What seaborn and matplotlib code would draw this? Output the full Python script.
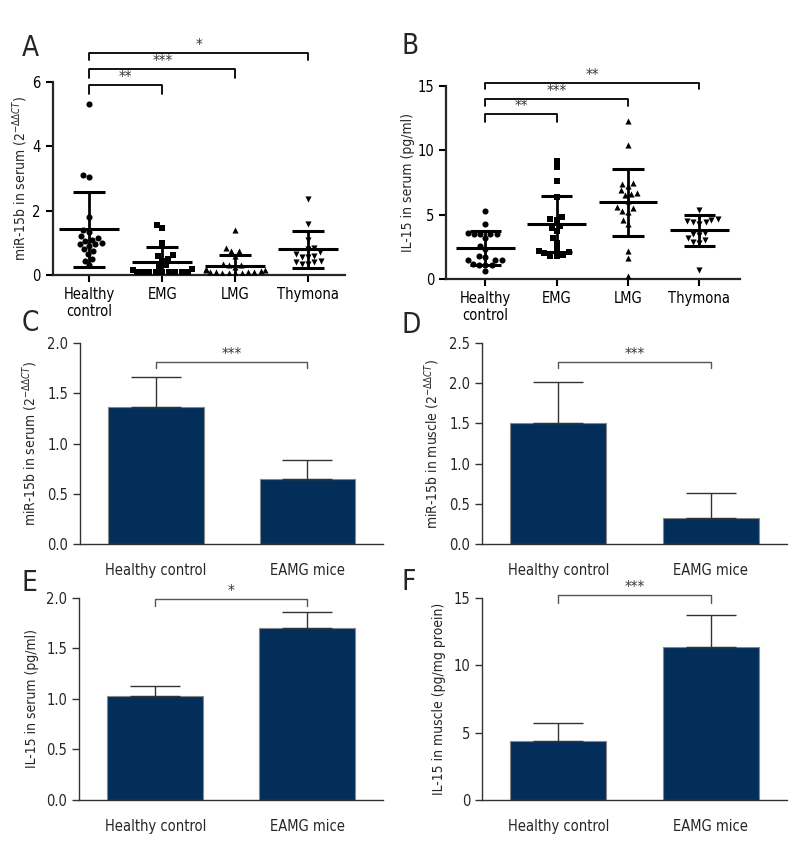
import numpy as np
import pandas as pd
import matplotlib
matplotlib.use('Agg')
import matplotlib.pyplot as plt
from matplotlib import font_manager
from matplotlib.ticker import FormatStrFormatter
import seaborn as sns

# scatter panels (A, B)
groups = ['Healthy\ncontrol', 'EMG', 'LMG', 'Thymona']
group_markers = ['o', 's', '^', 'v']

mir_hc = [5.31, 3.1, 3.05, 1.8, 1.4, 1.35, 1.2, 1.15, 1.1, 1.05, 1.0, 0.95, 0.95, 0.9, 0.8, 0.75, 0.65, 0.5, 0.45, 0.3]
mir_emg = [1.55, 1.45, 1.0, 0.62, 0.6, 0.5, 0.45, 0.3, 0.25, 0.2, 0.15, 0.1, 0.1, 0.08, 0.08, 0.08, 0.08, 0.08, 0.08, 0.1]
mir_lmg = [1.4, 0.85, 0.75, 0.75, 0.6, 0.35, 0.3, 0.3, 0.25, 0.2, 0.15, 0.15, 0.12, 0.1, 0.08, 0.08, 0.06, 0.05, 0.05, 0.05, 0.1]
mir_thy = [2.35, 1.6, 1.1, 0.85, 0.8, 0.7, 0.65, 0.6, 0.55, 0.55, 0.45, 0.4, 0.4, 0.35, 0.35]
mir_mean = [1.42, 0.40, 0.29, 0.80]
mir_sd = [1.16, 0.46, 0.33, 0.57]

il_hc = [5.3, 4.3, 3.6, 3.5, 3.5, 3.5, 3.5, 3.2, 2.6, 2.3, 1.8, 1.7, 1.5, 1.5, 1.5, 1.2, 1.1, 1.1, 1.1, 0.6]
il_emg = [9.2, 8.7, 7.6, 6.4, 4.8, 4.7, 4.6, 4.1, 4.0, 3.7, 3.2, 2.8, 2.3, 2.2, 2.1, 2.0, 1.9, 1.8, 1.8]
il_lmg = [12.3, 10.4, 7.5, 7.4, 7.2, 6.9, 6.7, 6.6, 6.5, 6.1, 5.6, 5.5, 5.3, 5.2, 4.6, 4.3, 2.2, 1.6, 0.2]
il_thy = [5.4, 4.8, 4.7, 4.6, 4.5, 4.4, 4.4, 4.3, 3.6, 3.5, 3.4, 3.2, 3.0, 2.9, 2.8, 0.7]
il_mean = [2.40, 4.29, 5.95, 3.78]
il_sd = [1.30, 2.17, 2.59, 1.19]

# bar panels (C-F)
mice = ['Healthy control', 'EAMG mice']
c_mean = [1.36, 0.65]
c_err = [0.30, 0.19]
d_mean = [1.51, 0.32]
d_err = [0.51, 0.31]
e_mean = [1.03, 1.70]
e_err = [0.10, 0.16]
f_mean = [4.35, 11.35]
f_err = [1.40, 2.40]

sns.set_style('ticks')
names = {f.name for f in font_manager.fontManager.ttflist}
narrow = [n for n in ['Liberation Sans Narrow', 'DejaVu Sans'] if n in names]
plt.rcParams['font.family'] = narrow
plt.rcParams['font.stretch'] = 'condensed'
plt.rcParams['mathtext.fontset'] = 'dejavusans'

navy = '#032e5a'
fig = plt.figure(figsize=(8, 8.67), dpi=100)


def bracket(ax, x1, x2, ytop, ydrop, stars, lw, color, fs):
    ax.plot([x1, x1, x2, x2], [ydrop, ytop, ytop, ydrop], color=color, lw=lw, clip_on=False)
    ax.text((x1 + x2) / 2, ytop, stars, ha='center', va='bottom', fontsize=fs, color='#333333')


def scatter_panel(ax, series, means, sds, ylim, yticks, ylabel, brackets):
    for i, vals in enumerate(series):
        sns.swarmplot(x=[groups[i]] * len(vals), y=vals, order=groups, marker=group_markers[i],
                      color='black', size=4.4, ax=ax)
    for i in range(len(groups)):
        m, s = means[i], sds[i]
        ax.hlines(m, i - 0.41, i + 0.41, color='black', lw=2.2)
        ax.vlines(i, m - s, m + s, color='black', lw=2)
        ax.hlines([m - s, m + s], i - 0.22, i + 0.22, color='black', lw=2.2)
    ax.set_ylim(*ylim)
    ax.set_yticks(yticks)
    ax.set_ylabel(ylabel, fontsize=10, labelpad=2)
    ax.set_xlabel('')
    for sp in ['left', 'bottom']:
        ax.spines[sp].set_linewidth(1.6)
    sns.despine(ax=ax)
    ax.tick_params(width=1.5, length=5, labelsize=10.5, colors='black')
    for x2, ytop, ydrop, st in brackets:
        bracket(ax, 0, x2, ytop, ydrop, st, 1.3, 'black', 11)


def bar_panel(ax, means, errs, ylim, yticks, ylabel, ytop, ydrop, stars, fmt=True):
    sns.barplot(x=mice, y=means, color=navy, width=0.63, edgecolor='#888888', linewidth=0.8,
                saturation=1, ax=ax)
    ax.errorbar(range(len(mice)), means, yerr=[[0] * len(errs), errs], fmt='none',
                ecolor='#333333', elinewidth=1, capsize=18, capthick=1)
    ax.set_xlim(-0.5, 1.5)
    ax.set_ylim(*ylim)
    ax.set_yticks(yticks)
    if fmt:
        ax.yaxis.set_major_formatter(FormatStrFormatter('%.1f'))
    ax.set_ylabel(ylabel, fontsize=10, labelpad=5)
    sns.despine(ax=ax)
    for sp in ['left', 'bottom']:
        ax.spines[sp].set_linewidth(1)
        ax.spines[sp].set_color('#333333')
    ax.tick_params(axis='x', length=0, labelsize=10.5, pad=14)
    ax.tick_params(axis='y', length=5, width=1, color='#333333', labelsize=10.5)
    bracket(ax, 0, 1, ytop, ydrop, stars, 1, '#555555', 11)


axA = fig.add_axes([0.066, 0.6828, 0.365, 0.2226])
scatter_panel(axA, [mir_hc, mir_emg, mir_lmg, mir_thy], mir_mean, mir_sd, (0, 6), [0, 2, 4, 6],
              r'miR-15b in serum (2$^{-\Delta\Delta CT}$)',
              [(1, 5.9, 5.64, '**'), (2, 6.39, 6.13, '***'), (3, 6.9, 6.67, '*')])
axA.set_xlim(-0.5, 3.5)

axB = fig.add_axes([0.5575, 0.6782, 0.3675, 0.2226])
scatter_panel(axB, [il_hc, il_emg, il_lmg, il_thy], il_mean, il_sd, (0, 15), [0, 5, 10, 15],
              'IL-15 in serum (pg/ml)',
              [(1, 12.8, 12.23, '**'), (2, 14.0, 13.45, '***'), (3, 15.26, 14.74, '**')])
axB.set_xlim(-0.55, 3.57)

axC = fig.add_axes([0.10, 0.3725, 0.379, 0.2318])
bar_panel(axC, c_mean, c_err, (0, 2.0), [0, 0.5, 1.0, 1.5, 2.0],
          r'miR-15b in serum (2$^{-\Delta\Delta CT}$)', 1.81, 1.75, '***')

axD = fig.add_axes([0.6025, 0.3725, 0.381, 0.2318])
bar_panel(axD, d_mean, d_err, (0, 2.5), [0, 0.5, 1.0, 1.5, 2.0, 2.5],
          r'miR-15b in muscle (2$^{-\Delta\Delta CT}$)', 2.26, 2.19, '***')

axE = fig.add_axes([0.099, 0.0773, 0.38, 0.233])
bar_panel(axE, e_mean, e_err, (0, 2.0), [0, 0.5, 1.0, 1.5, 2.0],
          'IL-15 in serum (pg/ml)', 1.99, 1.92, '*')

axF = fig.add_axes([0.6025, 0.0773, 0.381, 0.233])
bar_panel(axF, f_mean, f_err, (0, 15), [0, 5, 10, 15],
          'IL-15 in muscle (pg/mg proein)', 15.2, 14.65, '***', fmt=False)

for letter, x, y in [('A', 22, 34), ('B', 402, 32), ('C', 22, 309), ('D', 402, 311),
                     ('E', 22, 569), ('F', 402, 568)]:
    fig.text(x / 800, 1 - y / 867, letter, fontsize=20, va='top', ha='left')

fig.savefig('out.png', dpi=100)
